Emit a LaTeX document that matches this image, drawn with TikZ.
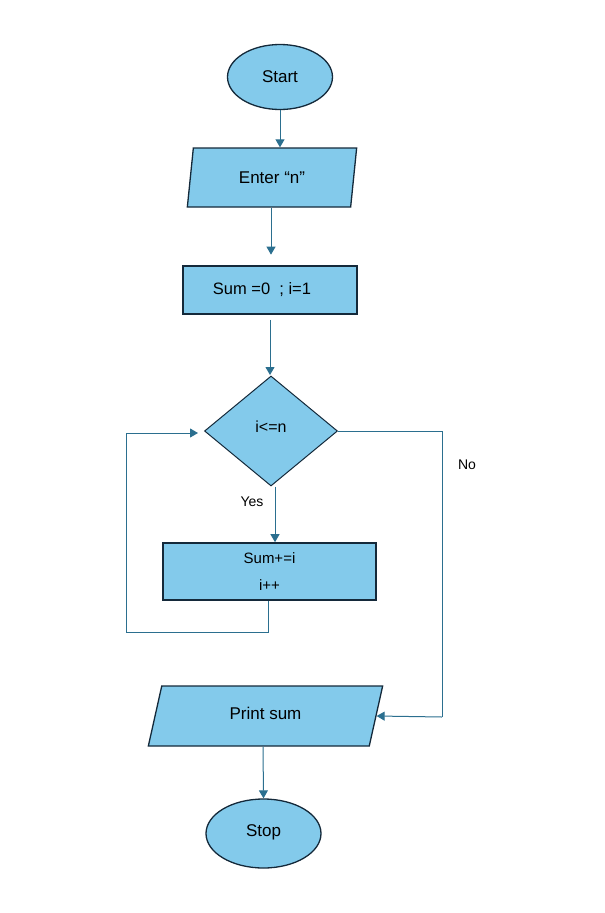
\documentclass[tikz,border=0pt]{standalone}
\usepackage{fontspec}
\setmainfont{Liberation Sans}
\usetikzlibrary{shapes.geometric,arrows.meta}
\definecolor{boxfill}{HTML}{83CAEB}
\definecolor{boxline}{HTML}{14293A}
\definecolor{conn}{HTML}{2B6F8F}
\tikzset{
  base/.style={draw=boxline, fill=boxfill, line width=1.3pt, inner sep=0pt, text=black},
  term/.style={base, ellipse},
  io/.style={base, trapezium, trapezium stretches=true},
  proc/.style={base, rectangle, line width=1.6pt},
  decide/.style={base, diamond, line width=1pt},
  conline/.style={draw=conn, line width=1pt},
  arr/.style={conline, -{Triangle[length=8pt,width=9pt]}},
  lbl/.style={inner sep=0pt, font=\fontsize{14}{16}\selectfont}
}
\begin{document}
\begin{tikzpicture}[x=1pt,y=-1pt]
\useasboundingbox (0,0) rectangle (605,913);
\node[term, minimum width=105pt, minimum height=65pt, font=\fontsize{17}{20}\selectfont] (start) at (280,77) {Start};
\node[io, trapezium left angle=78, trapezium right angle=102, minimum width=170pt, minimum height=59pt, font=\fontsize{17}{20}\selectfont] (enter) at (272,177.5) {\raisebox{-3pt}{Enter “n”}};
\node[proc, minimum width=174pt, minimum height=48pt, font=\fontsize{16.5}{20}\selectfont] (init) at (270,290) {\hspace*{-16pt}\raisebox{3pt}{Sum =0\ \ ; i=1}};
\node[decide, minimum width=133pt, minimum height=110pt, font=\fontsize{16}{19}\selectfont] (dec) at (271,431) {\raisebox{8pt}{i<=n}};
\node[proc, minimum width=213pt, minimum height=57pt, align=center, font=\fontsize{15}{18}\selectfont] (body) at (269.5,571.5) {Sum+=i\\[9pt]i++};
\node[io, trapezium left angle=75, trapezium right angle=105, minimum width=235pt, minimum height=60pt, font=\fontsize{17}{20}\selectfont] (print) at (265.5,716) {\raisebox{5pt}{Print sum}};
\node[term, minimum width=115pt, minimum height=69pt, font=\fontsize{17}{20}\selectfont] (stop) at (263.5,833.5) {\raisebox{6pt}{Stop}};
\coordinate (loopL) at (126,632);
\coordinate (loopT) at (126,433);
\coordinate (noR) at (442,431);
\coordinate (noB) at (442,717);
\draw[arr] (start.south) -- (start.south |- enter.north);
\draw[arr] ([xshift=-1pt]enter.south) -- ++(0,47);
\draw[arr] (init.south) ++(0,5) -- (270,375);
\draw[arr] ([xshift=4pt]dec.south) -- ([xshift=5.5pt]body.north);
\draw[conline] ([xshift=-1.5pt]body.south) |- (loopL) -- (loopT);
\draw[arr] (loopT) -- (198,433);
\draw[conline] (dec.east) -- (noR) -- (noB);
\draw[arr] (noB) -- (print.east);
\draw[arr] ([xshift=-2.5pt]print.south) -- (stop.north);
\node[lbl] (yes) at (252,502) {Yes};
\node[lbl] (no) at (467,465) {No};
\end{tikzpicture}
\end{document}
